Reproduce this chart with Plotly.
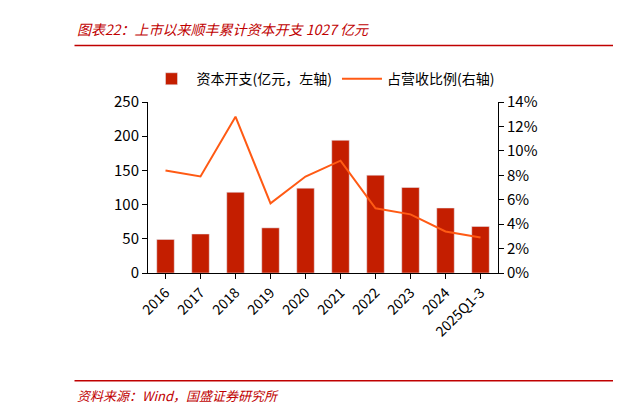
import plotly.graph_objects as go

years = ['2016', '2017', '2018', '2019', '2020', '2021', '2022', '2023', '2024', '2025Q1-3']
capex = [49, 57, 118, 66, 124, 194, 143, 125, 95, 68]
ratio = [8.4, 7.9, 12.8, 5.7, 7.9, 9.2, 5.3, 4.8, 3.4, 2.9]

red = '#C00000'
font = 'Noto Sans CJK SC'

fig = go.Figure()
fig.add_trace(go.Bar(x=years, y=capex, name='资本开支(亿元，左轴)',
                     marker_color='#C41E00', width=0.5))
fig.add_trace(go.Scatter(x=years, y=ratio, name='占营收比例(右轴)', yaxis='y2',
                         mode='lines', line=dict(color='#FF5A14', width=2)))

fig.update_layout(
    width=621, height=413,
    margin=dict(l=140, r=131, t=94, b=148),
    plot_bgcolor='white', paper_bgcolor='white',
    font=dict(family=font, size=15, color='black'),
    showlegend=True,
    legend=dict(orientation='h', x=0.5, xanchor='center', y=1.04, yanchor='bottom',
                font=dict(size=14), itemwidth=40),
    xaxis=dict(tickangle=-45, showline=True, linecolor='black', ticks='outside',
               tickcolor='black', tickfont=dict(size=14)),
    yaxis=dict(range=[0, 250], dtick=50, showgrid=False, showline=True,
               linecolor='black', ticks='outside', tickcolor='black'),
    yaxis2=dict(range=[0, 14], dtick=2, ticksuffix='%', overlaying='y', side='right',
                showgrid=False, showline=True, linecolor='black', ticks='outside',
                tickcolor='black'),
    shapes=[
        dict(type='line', xref='paper', yref='paper', x0=-0.21, x1=1.36, y0=1.33, y1=1.33,
             line=dict(color=red, width=1.5)),
        dict(type='line', xref='paper', yref='paper', x0=-0.21, x1=1.36, y0=-0.63, y1=-0.63,
             line=dict(color=red, width=1.5)),
    ],
    annotations=[
        dict(text='<i>图表22：上市以来顺丰累计资本开支 1027 亿元</i>', xref='paper', yref='paper',
             x=-0.21, y=1.355, xanchor='left', yanchor='bottom', showarrow=False,
             font=dict(color=red, size=14, family=font)),
        dict(text='<i>资料来源：Wind，国盛证券研究所</i>', xref='paper', yref='paper',
             x=-0.21, y=-0.65, xanchor='left', yanchor='top', showarrow=False,
             font=dict(color=red, size=13, family=font)),
    ],
)

fig.write_html('out.html')
